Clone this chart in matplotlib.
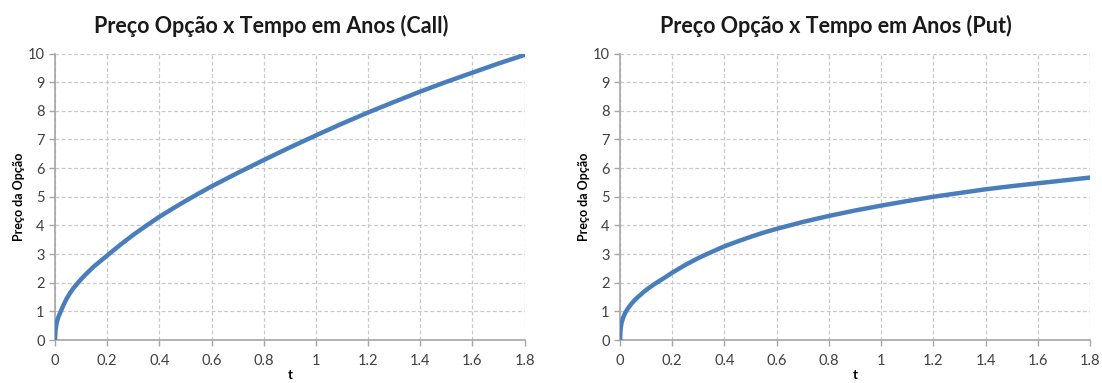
import numpy as np
import matplotlib.pyplot as plt

plt.rcParams['font.family'] = ['Lato', 'DejaVu Sans']

# prazo (anos) e precos
t = [0.0, 0.002, 0.006, 0.012, 0.019, 0.03, 0.045, 0.057, 0.07, 0.09, 0.108,
     0.13, 0.147, 0.175, 0.2, 0.25, 0.3, 0.35, 0.4, 0.45, 0.5, 0.55, 0.6,
     0.7, 0.8, 0.9, 1.0, 1.1, 1.2, 1.3, 1.4, 1.5, 1.6, 1.7, 1.8]
preco_call = [0.0, 0.35, 0.58, 0.78, 0.93, 1.17, 1.45, 1.63, 1.8, 2.02, 2.2,
              2.4, 2.55, 2.76, 2.95, 3.32, 3.67, 3.99, 4.3, 4.58, 4.85, 5.11, 5.36,
              5.83, 6.28, 6.72, 7.14, 7.55, 7.94, 8.31, 8.67, 9.01, 9.33, 9.65, 9.95]
preco_put = [0.0, 0.37, 0.6, 0.78, 0.93, 1.1, 1.28, 1.4, 1.51, 1.67, 1.8,
             1.94, 2.04, 2.2, 2.35, 2.62, 2.86, 3.07, 3.27, 3.44, 3.6, 3.75, 3.88,
             4.12, 4.33, 4.52, 4.69, 4.85, 5.0, 5.13, 5.26, 5.37, 5.47, 5.57, 5.67]

titulos = ["Preço Opção x Tempo em Anos (Call)", "Preço Opção x Tempo em Anos (Put)"]
xticks = [0, 0.2, 0.4, 0.6, 0.8, 1, 1.2, 1.4, 1.6, 1.8]
xlabels = ["0", "0.2", "0.4", "0.6", "0.8", "1", "1.2", "1.4", "1.6", "1.8"]
yticks = list(range(0, 11))

fig = plt.figure(figsize=(11.02, 3.83), dpi=100)
ax1 = fig.add_axes([55 / 1102, 43 / 383, 469.5 / 1102, 286.5 / 383])
ax2 = fig.add_axes([620 / 1102, 43 / 383, 470 / 1102, 286.5 / 383])

for ax, y, titulo in zip([ax1, ax2], [preco_call, preco_put], titulos):
    ax.plot(t, y, color='#4A7EBB', lw=3.2, solid_capstyle='round',
            solid_joinstyle='round', zorder=3)
    ax.set_xlim(0, 1.8)
    ax.set_ylim(0, 10)
    ax.set_xticks(xticks)
    ax.set_xticklabels(xlabels)
    ax.set_yticks(yticks)
    ax.grid(True, color='#C8C8C8', linestyle=(0, (3, 2)), lw=0.9)
    for s in ['top', 'right']:
        ax.spines[s].set_visible(False)
    for s in ['left', 'bottom']:
        ax.spines[s].set_color('#A6A6A6')
        ax.spines[s].set_linewidth(1.2)
    ax.tick_params(colors='#A6A6A6', labelcolor='#404040', labelsize=10.5,
                   length=4, width=1)
    ax.tick_params(axis='x', pad=6)
    # titulo centrado na area do grafico, um pouco a esquerda do eixo
    ax.text(0.46, 1.095, titulo, transform=ax.transAxes, ha='center', va='center',
            fontsize=15.5, fontweight='bold', color='#1a1a1a')
    ax.set_xlabel('t', fontsize=9.5, fontweight='bold', labelpad=1)
    ax.set_ylabel('Preço da Opção', fontsize=9, fontweight='bold', labelpad=2)

fig.savefig('out.png', dpi=100)
